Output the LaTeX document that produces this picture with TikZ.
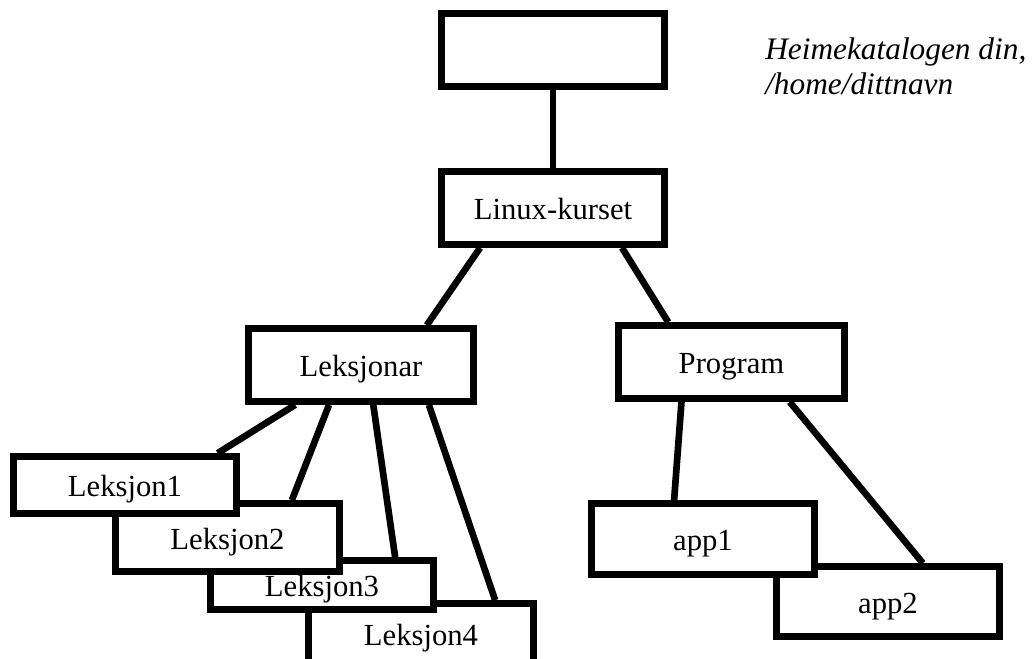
\documentclass[tikz,border=0pt]{standalone}
\usepackage{fontspec}
\setmainfont{Liberation Serif}
\usetikzlibrary{calc}
\definecolor{figline}{RGB}{0,0,0}
\tikzset{
  mappe/.style ={draw=figline, fill=white, line width=5pt, minimum width=167pt, inner sep=0pt, text height=19.5pt, text depth=2pt, font=\fontsize{23}{27}\selectfont},
  kant/.style  ={draw=figline, line width=5pt, line cap=butt},
  merk/.style  ={font=\fontsize{23.5}{26.5}\selectfont\itshape, align=left, inner sep=0pt},
}

\begin{document}
\begin{tikzpicture}[x=0.75pt,y=-0.75pt]
  \clip (0,0) rectangle (1034,658);
  \node[mappe,minimum height=54.75pt] (home) at (553,50) {};
  \node[mappe,minimum height=54.75pt] (kurs) at (553,208) {Linux-kurset};
  \node[mappe,minimum width=168.75pt,minimum height=54.75pt] (leksjonar) at (361,365) {Leksjonar};
  \node[mappe,minimum width=169.5pt,minimum height=54.75pt] (program) at (731.5,362) {Program};
  \node[mappe,minimum width=168.75pt,minimum height=45pt] (leksjon4) at (421,633.5) {Leksjon4};
  \node[mappe,minimum height=36.75pt] (leksjon3) at (322,585) {Leksjon3};
  \node[mappe,minimum width=168pt,minimum height=51pt] (leksjon2) at (227.5,537.5) {Leksjon2};
  \node[mappe,minimum height=42.75pt] (leksjon1) at (125,485) {Leksjon1};
  \node[mappe,minimum height=52.5pt] (app2) at (888,601.5) {app2};
  \node[mappe,minimum height=53.25pt] (app1) at (703,539) {app1};
  \node[merk,anchor=north west] (homenavn) at (765,37) {Heimekatalogen din,\\/home/dittnavn};
  \draw[kant] (home.south) -- (kurs.north);
  \draw[kant] ($(kurs.south west)!0.182!(kurs.south east)$) -- ($(leksjonar.north west)!0.784!(leksjonar.north east)$);
  \draw[kant] ($(kurs.south west)!0.801!(kurs.south east)$) -- ($(program.north west)!0.228!(program.north east)$);
  \draw[kant] ($(leksjonar.south west)!0.216!(leksjonar.south east)$) -- ($(leksjon1.north west)!0.904!(leksjon1.north east)$);
  \draw[kant] ($(leksjonar.south west)!0.362!(leksjonar.south east)$) -- ($(leksjon2.north west)!0.779!(leksjon2.north east)$);
  \draw[kant] ($(leksjonar.south west)!0.553!(leksjonar.south east)$) -- ($(leksjon3.north west)!0.819!(leksjon3.north east)$);
  \draw[kant] ($(leksjonar.south west)!0.793!(leksjonar.south east)$) -- ($(leksjon4.north west)!0.82!(leksjon4.north east)$);
  \draw[kant] ($(program.south west)!0.285!(program.south east)$) -- ($(app1.north west)!0.374!(app1.north east)$);
  \draw[kant] ($(program.south west)!0.75!(program.south east)$) -- ($(app2.north west)!0.652!(app2.north east)$);
\end{tikzpicture}
\end{document}
